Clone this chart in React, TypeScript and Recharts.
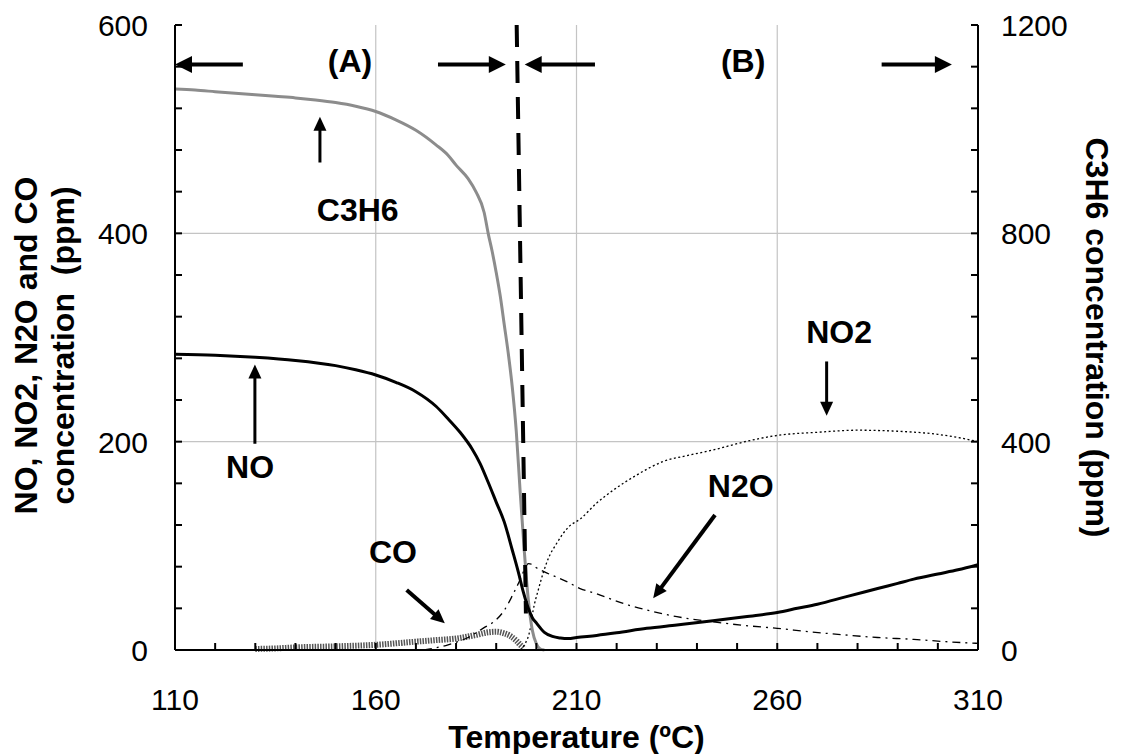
import React from 'react';
import { ComposedChart, Line, XAxis, YAxis, CartesianGrid, ReferenceLine, ReferenceDot, Label } from 'recharts';

// temperature (ºC) vs outlet concentration (ppm)
const NO_DATA = [
  { t: 110, ppm: 284 }, { t: 120, ppm: 283 }, { t: 130, ppm: 281 }, { t: 140, ppm: 278 },
  { t: 150, ppm: 273 }, { t: 155, ppm: 269 }, { t: 160, ppm: 264 }, { t: 165, ppm: 257 },
  { t: 170, ppm: 248 }, { t: 175, ppm: 234 }, { t: 178, ppm: 222 }, { t: 181, ppm: 209 },
  { t: 184, ppm: 193 }, { t: 186, ppm: 179 }, { t: 188, ppm: 161 }, { t: 190, ppm: 142 },
  { t: 192, ppm: 123 }, { t: 194, ppm: 96 }, { t: 195.5, ppm: 75 }, { t: 196.8, ppm: 55 },
  { t: 198, ppm: 40 }, { t: 199, ppm: 31 }, { t: 200, ppm: 26 }, { t: 202, ppm: 17 },
  { t: 204, ppm: 13 }, { t: 206, ppm: 11.5 }, { t: 208, ppm: 11 }, { t: 210, ppm: 12 },
  { t: 215, ppm: 14 }, { t: 220, ppm: 16.5 }, { t: 227.5, ppm: 20.8 }, { t: 235, ppm: 24 },
  { t: 244, ppm: 28 }, { t: 252, ppm: 32 }, { t: 260, ppm: 36 }, { t: 265, ppm: 40 },
  { t: 270, ppm: 44 }, { t: 277, ppm: 51 }, { t: 285, ppm: 59 }, { t: 290, ppm: 64 },
  { t: 294, ppm: 68 }, { t: 300, ppm: 73 }, { t: 305, ppm: 77 }, { t: 310, ppm: 82 },
];

const NO2_DATA = [
  { t: 196, ppm: 0 }, { t: 197.2, ppm: 6 }, { t: 198.4, ppm: 19 },
  { t: 199.2, ppm: 38 }, { t: 200.5, ppm: 58 }, { t: 201.7, ppm: 74 }, { t: 203, ppm: 88 },
  { t: 205, ppm: 102 }, { t: 208, ppm: 118 }, { t: 211, ppm: 126 }, { t: 215, ppm: 141 },
  { t: 219, ppm: 153 }, { t: 225, ppm: 168 }, { t: 231.6, ppm: 181 }, { t: 238, ppm: 187 },
  { t: 244, ppm: 192 }, { t: 252, ppm: 200 }, { t: 260, ppm: 206 }, { t: 270, ppm: 209 },
  { t: 280, ppm: 211 }, { t: 290, ppm: 210 }, { t: 300, ppm: 207 }, { t: 305, ppm: 204 },
  { t: 310, ppm: 200 },
];

const N2O_DATA = [
  { t: 172, ppm: 0 }, { t: 178, ppm: 5 }, { t: 183, ppm: 12 },
  { t: 186.8, ppm: 21 }, { t: 190, ppm: 29 }, { t: 192, ppm: 38 }, { t: 194, ppm: 52 },
  { t: 196, ppm: 68 }, { t: 197, ppm: 77 }, { t: 198, ppm: 83 }, { t: 199, ppm: 82 },
  { t: 200, ppm: 79 }, { t: 202, ppm: 75 }, { t: 205, ppm: 70 }, { t: 207.6, ppm: 65.6 },
  { t: 210.9, ppm: 59 }, { t: 215, ppm: 54 }, { t: 219.2, ppm: 48 }, { t: 223, ppm: 43 },
  { t: 227.5, ppm: 38.4 }, { t: 235, ppm: 32 }, { t: 244, ppm: 27 }, { t: 252, ppm: 23.5 },
  { t: 260, ppm: 20.8 }, { t: 268, ppm: 17.5 }, { t: 277, ppm: 14.4 }, { t: 285, ppm: 12 },
  { t: 294, ppm: 10.2 }, { t: 302, ppm: 8 }, { t: 310, ppm: 6.4 },
];

const CO_DATA = [
  { t: 130, ppm: 1 }, { t: 135, ppm: 1.5 }, { t: 140, ppm: 2.5 },
  { t: 150, ppm: 3.5 }, { t: 160, ppm: 5 }, { t: 170, ppm: 8 }, { t: 175, ppm: 9.5 },
  { t: 180, ppm: 11 }, { t: 185, ppm: 14.5 }, { t: 188, ppm: 17 }, { t: 190, ppm: 17.5 },
  { t: 192, ppm: 16 }, { t: 193.5, ppm: 13.5 }, { t: 195, ppm: 9 }, { t: 196, ppm: 5 },
  { t: 197, ppm: 1.5 },
];

const C3H6_DATA = [
  { t: 110, ppm: 1077 }, { t: 115, ppm: 1075 }, { t: 120, ppm: 1072 }, { t: 125, ppm: 1069 },
  { t: 130, ppm: 1066 }, { t: 135, ppm: 1063 }, { t: 140, ppm: 1060 }, { t: 145, ppm: 1056 },
  { t: 150, ppm: 1051 }, { t: 155, ppm: 1044 }, { t: 160, ppm: 1034 }, { t: 165, ppm: 1018 },
  { t: 170, ppm: 998 }, { t: 175, ppm: 970 }, { t: 178, ppm: 950 }, { t: 180, ppm: 931 },
  { t: 183, ppm: 905 }, { t: 185, ppm: 879 }, { t: 187, ppm: 840 }, { t: 188, ppm: 800 },
  { t: 189, ppm: 765 }, { t: 190, ppm: 725 }, { t: 191, ppm: 680 }, { t: 192, ppm: 625 },
  { t: 193, ppm: 570 }, { t: 194, ppm: 505 }, { t: 195, ppm: 420 }, { t: 196, ppm: 300 },
  { t: 197, ppm: 190 }, { t: 198, ppm: 96 }, { t: 199, ppm: 38 }, { t: 200, ppm: 12 },
  { t: 201, ppm: 2 }, { t: 202, ppm: 0 },
];

const TEMP_TICKS = [110, 120, 130, 140, 150, 160, 170, 180, 190, 200, 210, 220, 230, 240, 250, 260, 270, 280, 290, 300, 310];
const TEMP_LABELS = [110, 160, 210, 260, 310];
const LEFT_TICKS = [0, 40, 80, 120, 160, 200, 240, 280, 320, 360, 400, 440, 480, 520, 560, 600];
const LEFT_LABELS = [0, 200, 400, 600];
const RIGHT_TICKS = [0, 80, 160, 240, 320, 400, 480, 560, 640, 720, 800, 880, 960, 1040, 1120, 1200];
const RIGHT_LABELS = [0, 400, 800, 1200];

// callouts, in axis units (temperature, left-axis ppm)
const REGION_ARROWS = [
  { from: { x: 126.9, y: 562 }, to: { x: 110, y: 562 } },
  { from: { x: 175.5, y: 562 }, to: { x: 192.4, y: 562 } },
  { from: { x: 214.6, y: 562 }, to: { x: 197.1, y: 562 } },
  { from: { x: 286, y: 562 }, to: { x: 303.5, y: 562 } },
];
const NOTE_ARROWS = [
  { from: { x: 146.1, y: 468 }, to: { x: 146.1, y: 512 }, w: 3 },
  { from: { x: 129.9, y: 198 }, to: { x: 129.9, y: 274 }, w: 3 },
  { from: { x: 167.7, y: 57.6 }, to: { x: 177.2, y: 25.6 }, w: 4 },
  { from: { x: 244.5, y: 129.6 }, to: { x: 229.1, y: 49.6 }, w: 4 },
  { from: { x: 272.3, y: 277 }, to: { x: 272.3, y: 225 }, w: 3 },
];
const NOTE_LABELS = [
  { text: '(A)', x: 153.6, y: 566 },
  { text: '(B)', x: 251.5, y: 566 },
  { text: 'C3H6', x: 155.5, y: 423 },
  { text: 'NO', x: 128.7, y: 176 },
  { text: 'CO', x: 164.3, y: 94.6 },
  { text: 'N2O', x: 250.9, y: 158 },
  { text: 'NO2', x: 275.4, y: 306 },
];
const BOUNDARY = [{ x: 195.1, y: 600 }, { x: 197.4, y: 35 }];

const FONT = '"Liberation Sans", Arial, sans-serif';

const makeArrow = (shaft: number, head: number, half: number) => (props: any) => {
  const { x1, y1, x2, y2 } = props;
  const len = Math.hypot(x2 - x1, y2 - y1) || 1;
  const ux = (x2 - x1) / len;
  const uy = (y2 - y1) / len;
  const bx = x2 - ux * head;
  const by = y2 - uy * head;
  return (
    <g>
      <line x1={x1} y1={y1} x2={bx + ux} y2={by + uy} stroke="#000" strokeWidth={shaft} />
      <polygon
        points={`${x2},${y2} ${bx - uy * half},${by + ux * half} ${bx + uy * half},${by - ux * half}`}
        fill="#000"
      />
    </g>
  );
};

const makeText = (text: string) => (props: any) => (
  <text x={props.cx} y={props.cy + 11.5} textAnchor="middle" fontFamily={FONT} fontSize={32} fontWeight="bold" fill="#000">
    {text}
  </text>
);

const BottomTick = ({ x, y, payload }: any) => (
  <g>
    <line x1={x} x2={x} y1={y} y2={y - 7} stroke="#000" strokeWidth={2} />
    {TEMP_LABELS.includes(payload.value) && (
      <text x={x} y={y + 60} textAnchor="middle" fontFamily={FONT} fontSize={30} fill="#000">
        {payload.value}
      </text>
    )}
  </g>
);

const TopTick = ({ x, y }: any) => <line x1={x} x2={x} y1={y} y2={y + 7} stroke="#000" strokeWidth={2} />;

const LeftTick = ({ x, y, payload }: any) => (
  <g>
    <line x1={x} x2={x + 7} y1={y} y2={y} stroke="#000" strokeWidth={2} />
    {LEFT_LABELS.includes(payload.value) && (
      <text x={x - 27} y={y + 11} textAnchor="end" fontFamily={FONT} fontSize={30} fill="#000">
        {payload.value}
      </text>
    )}
  </g>
);

const RightTick = ({ x, y, payload }: any) => (
  <g>
    <line x1={x} x2={x - 7} y1={y} y2={y} stroke="#000" strokeWidth={2} />
    {RIGHT_LABELS.includes(payload.value) && (
      <text x={x + 23} y={y + 11} textAnchor="start" fontFamily={FONT} fontSize={30} fill="#000">
        {payload.value}
      </text>
    )}
  </g>
);

const titleStyle = { fontFamily: FONT, fontSize: 32, fontWeight: 'bold' as const, fill: '#000' };

const LeftTitle = ({ viewBox }: any) => {
  const cy = viewBox.y + viewBox.height / 2 + 8;
  return (
    <g>
      <text transform={`translate(${viewBox.x + 25},${cy}) rotate(-90)`} dy={11.5} textAnchor="middle" {...titleStyle}>
        NO, NO2, N2O and CO
      </text>
      <text transform={`translate(${viewBox.x + 62},${cy}) rotate(-90)`} dy={11.5} textAnchor="middle" {...titleStyle} xmlSpace="preserve">
        concentration  (ppm)
      </text>
    </g>
  );
};

const RightTitle = ({ viewBox }: any) => {
  const cy = viewBox.y + viewBox.height / 2;
  return (
    <text transform={`translate(${viewBox.x + 119},${cy}) rotate(90)`} dy={11.5} textAnchor="middle" {...titleStyle}>
      C3H6 concentration (ppm)
    </text>
  );
};

export default function App() {
  const bigArrow = makeArrow(4, 17, 8.5);
  return (
    <div style={{ width: 1122, height: 754, background: '#fff', fontFamily: FONT }}>
      <style>{'body{margin:0}'}</style>
      <ComposedChart width={1122} height={754} margin={{ top: 25, right: 0, bottom: 0, left: 0 }}>
        <CartesianGrid
          yAxisId="left"
          horizontalValues={[200, 400]}
          verticalValues={[160, 210, 260]}
          stroke="#c4c4c4"
          strokeWidth={1.2}
        />
        <XAxis
          dataKey="t"
          type="number"
          domain={[110, 310]}
          ticks={TEMP_TICKS}
          interval={0}
          height={104}
          tickSize={0}
          tickMargin={0}
          tick={<BottomTick />}
          axisLine={{ stroke: '#000', strokeWidth: 2 }}
          tickLine={false}
          allowDataOverflow
        >
          <Label value="Temperature (ºC)" position="insideBottom" offset={6} style={titleStyle} />
        </XAxis>
        <XAxis
          xAxisId="top"
          orientation="top"
          type="number"
          domain={[110, 310]}
          ticks={TEMP_TICKS}
          interval={0}
          height={0}
          tickSize={0}
          tickMargin={0}
          tick={<TopTick />}
          axisLine={{ stroke: '#000', strokeWidth: 2 }}
          tickLine={false}
        />
        <YAxis
          yAxisId="left"
          type="number"
          domain={[0, 600]}
          ticks={LEFT_TICKS}
          interval={0}
          width={175}
          tickSize={0}
          tickMargin={0}
          tick={<LeftTick />}
          axisLine={{ stroke: '#000', strokeWidth: 2 }}
          tickLine={false}
        >
          <Label content={<LeftTitle />} />
        </YAxis>
        <YAxis
          yAxisId="right"
          orientation="right"
          type="number"
          domain={[0, 1200]}
          ticks={RIGHT_TICKS}
          interval={0}
          width={144}
          tickSize={0}
          tickMargin={0}
          tick={<RightTick />}
          axisLine={{ stroke: '#000', strokeWidth: 2 }}
          tickLine={false}
        >
          <Label content={<RightTitle />} />
        </YAxis>

        <Line yAxisId="left" data={CO_DATA} dataKey="ppm" type="monotone" stroke="#555" strokeWidth={6} strokeDasharray="1.5 1.2" dot={false} isAnimationActive={false} />
        <Line yAxisId="left" data={N2O_DATA} dataKey="ppm" type="monotone" stroke="#000" strokeWidth={1.3} strokeDasharray="8 5 2 5" dot={false} isAnimationActive={false} />
        <Line yAxisId="left" data={NO2_DATA} dataKey="ppm" type="monotone" stroke="#000" strokeWidth={1.3} strokeDasharray="2 2.5" dot={false} isAnimationActive={false} />
        <Line yAxisId="right" data={C3H6_DATA} dataKey="ppm" type="monotone" stroke="#8c8c8c" strokeWidth={3} dot={false} isAnimationActive={false} />
        <Line yAxisId="left" data={NO_DATA} dataKey="ppm" type="monotone" stroke="#000" strokeWidth={3} dot={false} isAnimationActive={false} />

        <ReferenceLine yAxisId="left" segment={BOUNDARY} stroke="#000" strokeWidth={4} strokeDasharray="22 14" ifOverflow="visible" />
        {REGION_ARROWS.map((a, i) => (
          <ReferenceLine key={`ra${i}`} yAxisId="left" segment={[a.from, a.to]} ifOverflow="visible" shape={bigArrow} />
        ))}
        {NOTE_ARROWS.map((a, i) => (
          <ReferenceLine key={`na${i}`} yAxisId="left" segment={[a.from, a.to]} ifOverflow="visible" shape={makeArrow(a.w, 14, 6.5)} />
        ))}
        {NOTE_LABELS.map((n) => (
          <ReferenceDot key={n.text} yAxisId="left" x={n.x} y={n.y} r={0} ifOverflow="visible" shape={makeText(n.text)} />
        ))}
      </ComposedChart>
    </div>
  );
}
